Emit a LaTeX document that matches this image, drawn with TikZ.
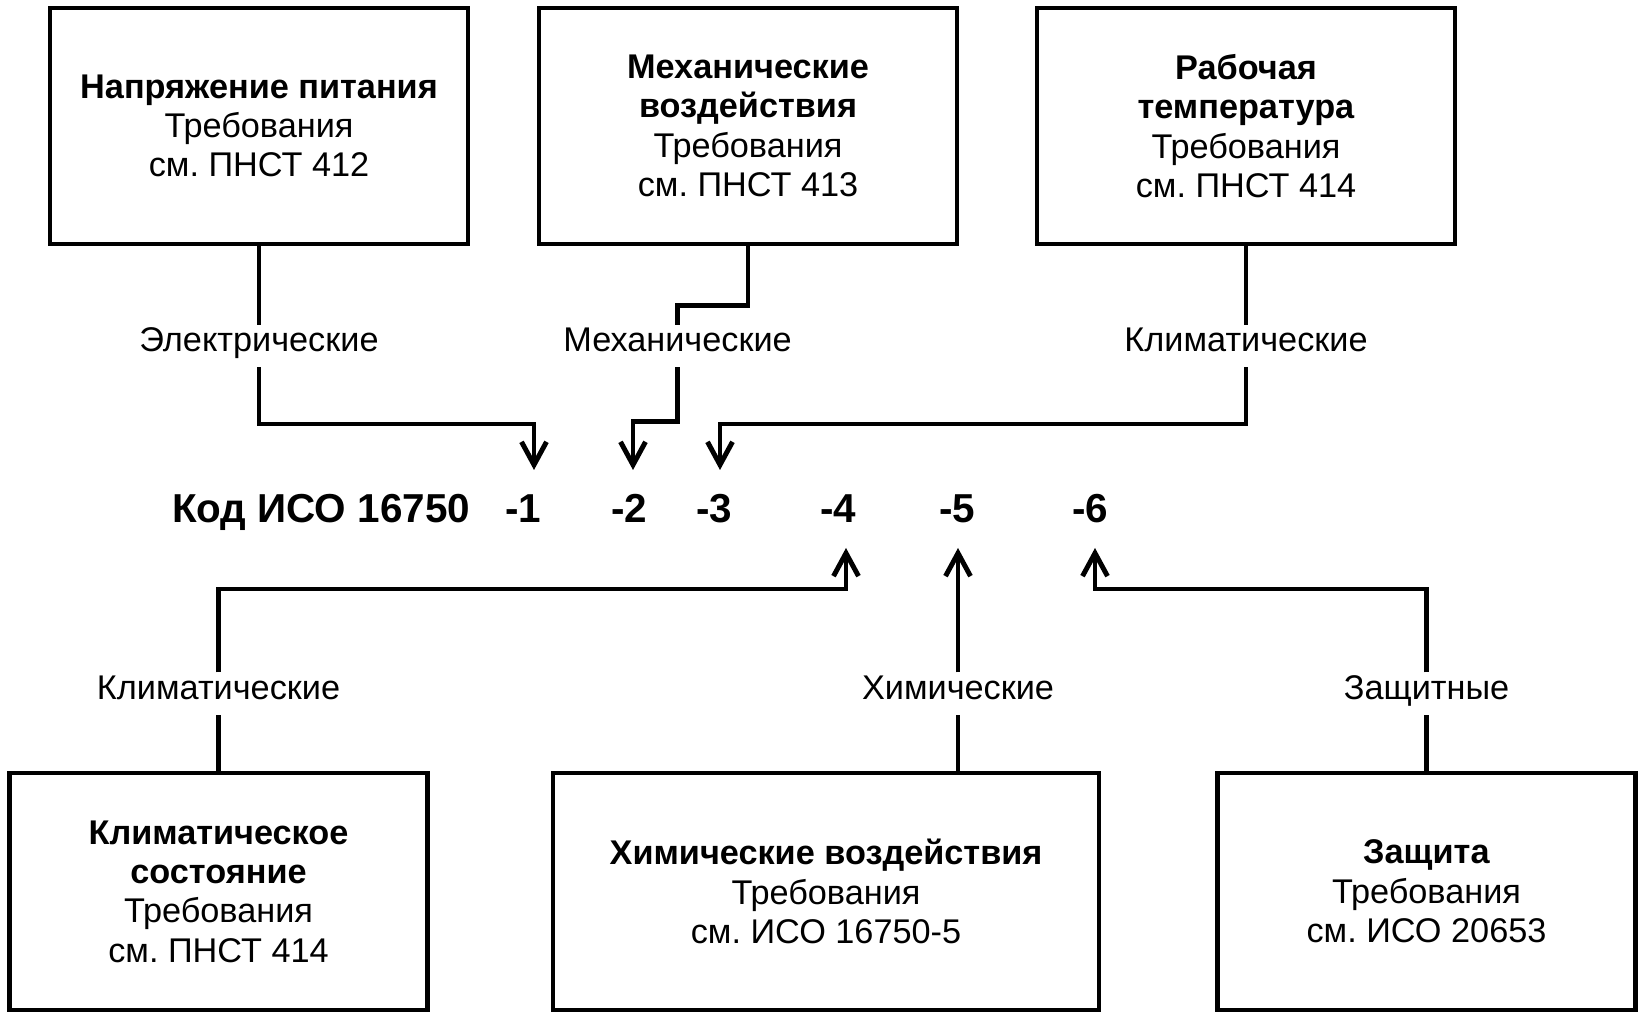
\documentclass[tikz,border=0pt]{standalone}
\usepackage{fontspec}
\setmainfont{Liberation Sans}
\usetikzlibrary{arrows.meta, positioning}

\begin{document}
\begin{tikzpicture}[
    block/.style={
        draw,
        line width=2.8pt,
        minimum width=8.36cm,
        minimum height=4.72cm,
        align=center,
        font=\fontsize{19.5}{22.4}\selectfont,
    },
    link/.style={
        line width=2.8pt,
    },
    arrow/.style={
        line width=2.8pt,
        -{Straight Barb[length=4.6mm,width=5mm]},
    },
    tag/.style={
        font=\fontsize{19.5}{22.4}\selectfont,
        text height=1.5ex,
        text depth=.3ex,
        inner sep=2.5mm,
    },
    code/.style={
        font=\fontsize{23}{26}\selectfont\bfseries,
        anchor=base,
        inner sep=0pt,
    }
]
    \useasboundingbox (0,0) rectangle (32.94,20.38);

    % Upper blocks
    \node[block] (power) at (5.18,17.86) {\textbf{Напряжение питания}\\Требования\\см.\ ПНСТ 412};
    \node[block] (mech) at (14.96,17.86) {\textbf{Механические}\\\textbf{воздействия}\\Требования\\см.\ ПНСТ 413};
    \node[block] (temp) at (24.92,17.86) {\textbf{Рабочая}\\\textbf{температура}\\Требования\\см.\ ПНСТ 414};

    % Lower blocks
    \node[block, minimum height=4.74cm] (clim) at (4.37,2.55) {\textbf{Климатическое}\\\textbf{состояние}\\Требования\\см.\ ПНСТ 414};
    \node[block, minimum height=4.74cm, minimum width=10.92cm] (chem) at (16.52,2.55) {\textbf{Химические воздействия}\\Требования\\см.\ ИСО 16750-5};
    \node[block, minimum height=4.74cm] (prot) at (28.53,2.55) {\textbf{Защита}\\Требования\\см.\ ИСО 20653};

    % Code line
    \node[code] (iso) at (6.42,9.92) {Код ИСО 16750};
    \node[code] (p1) at (10.46,9.92) {-1};
    \node[code] (p2) at (12.58,9.92) {-2};
    \node[code] (p3) at (14.28,9.92) {-3};
    \node[code] (p4) at (16.76,9.92) {-4};
    \node[code] (p5) at (19.14,9.92) {-5};
    \node[code] (p6) at (21.80,9.92) {-6};

    % Arrow tips
    \coordinate (t1) at (10.68,10.98);
    \coordinate (t2) at (12.66,10.98);
    \coordinate (t3) at (14.40,10.98);
    \coordinate (t4) at (16.92,9.42);
    \coordinate (t5) at (19.16,9.42);
    \coordinate (t6) at (21.90,9.42);

    % Labels
    \node[tag] (lelec) at (5.18,13.46) {Электрические};
    \node[tag] (lmech) at (13.55,13.46) {Механические};
    \node[tag] (ltemp) at (24.92,13.46) {Климатические};
    \node[tag] (lclim) at (4.37,6.51) {Климатические};
    \node[tag] (lchem) at (19.16,6.51) {Химические};
    \node[tag] (lprot) at (28.53,6.51) {Защитные};

    % Upper connectors
    \draw[link] (power) -- (lelec);
    \draw[arrow] (lelec) |- ([yshift=9.2mm]t1) -- (t1);
    \draw[link] (mech.south) -- ++(0,-1.18) -| (lmech);
    \draw[arrow] (lmech) |- ([yshift=9.7mm]t2) -- (t2);
    \draw[link] (temp) -- (ltemp);
    \draw[arrow] (ltemp) |- ([yshift=9.2mm]t3) -- (t3);

    % Lower connectors
    \draw[link] (clim) -- (lclim);
    \draw[arrow] (lclim) |- ([yshift=-8.2mm]t4) -- (t4);
    \draw[link] (chem.north -| lchem) -- (lchem);
    \draw[arrow] (lchem) -- (t5);
    \draw[link] (prot) -- (lprot);
    \draw[arrow] (lprot) |- ([yshift=-8.2mm]t6) -- (t6);
\end{tikzpicture}
\end{document}
